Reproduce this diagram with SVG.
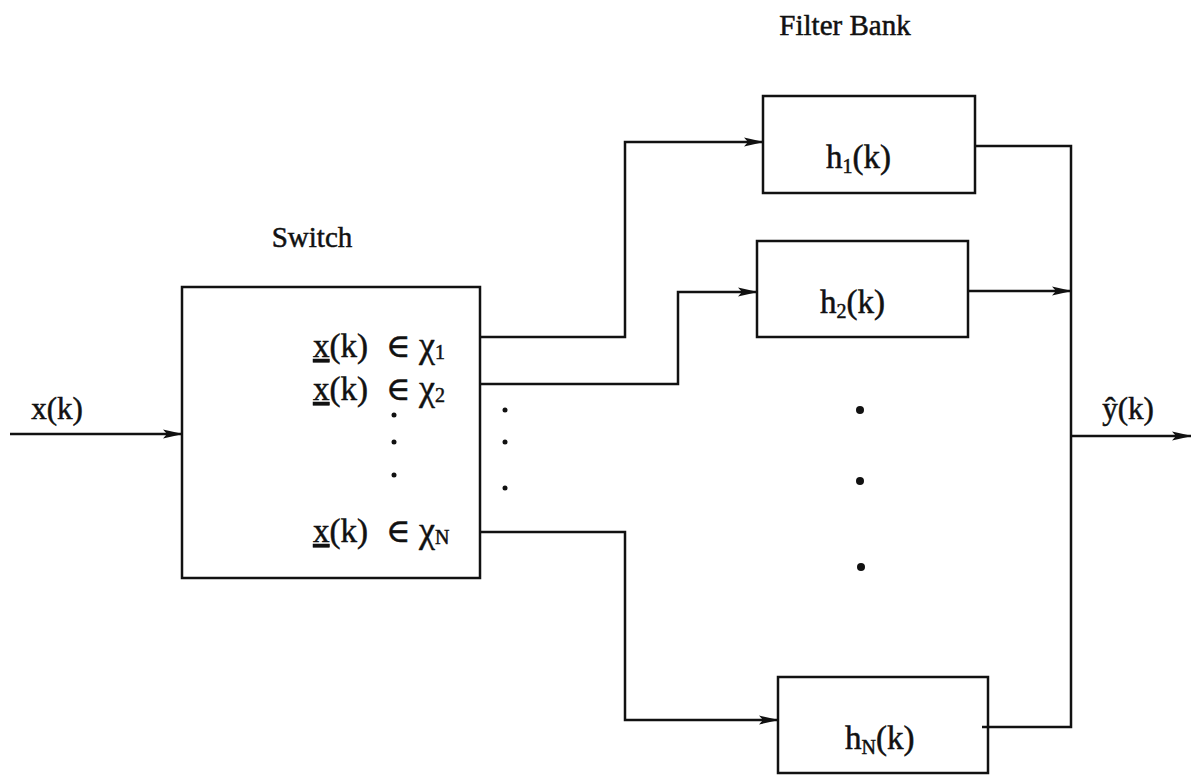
<svg xmlns="http://www.w3.org/2000/svg" width="1191" height="776" viewBox="0 0 1191 776">
<style>
text{font-family:"Liberation Serif","DejaVu Serif",serif;font-size:29px;fill:#111;stroke:#111;stroke-width:0.5}
.m{font-size:31px}
.h{font-size:33px}
.s{font-size:33px}
.box{fill:none;stroke:#111;stroke-width:2.5}
.wire{fill:none;stroke:#111;stroke-width:2.5}
.sub{font-size:20px}
.chi{font-size:36px}
</style>
<defs>
<marker id="ah" markerWidth="20" markerHeight="12" refX="19" refY="6" orient="auto" markerUnits="userSpaceOnUse">
<path d="M0,1.5 L20,6 L0,10.5 L4,6 Z" fill="#111"/>
</marker>
</defs>
<rect width="1191" height="776" fill="#fff"/>
<g id="labels">
<text x="312" y="247" text-anchor="middle">Switch</text>
<text x="845" y="35" text-anchor="middle">Filter Bank</text>
<text class="m" x="57" y="419" text-anchor="middle">x(k)</text>
<text class="m" x="1128" y="419" text-anchor="middle">ŷ(k)</text>
</g>
<g id="switch">
<rect class="box" x="182" y="287" width="298" height="291"/>
<text class="s" y="357"><tspan x="313" text-decoration="underline">x</tspan><tspan>(k)</tspan><tspan x="386">∈</tspan><tspan class="chi" x="419">χ</tspan><tspan class="sub" dy="2">1</tspan></text>
<text class="s" y="400"><tspan x="313" text-decoration="underline">x</tspan><tspan>(k)</tspan><tspan x="386">∈</tspan><tspan class="chi" x="419">χ</tspan><tspan class="sub" dy="2">2</tspan></text>
<circle cx="394" cy="415" r="2.5" fill="#111"/>
<circle cx="394" cy="442" r="2.5" fill="#111"/>
<circle cx="394" cy="475" r="2.5" fill="#111"/>
<text class="s" y="542"><tspan x="313" text-decoration="underline">x</tspan><tspan>(k)</tspan><tspan x="386">∈</tspan><tspan class="chi" x="419">χ</tspan><tspan class="sub" dy="2">N</tspan></text>
</g>
<g id="h1">
<rect class="box" x="763" y="96" width="212" height="97"/>
<text class="h" x="826" y="168">h<tspan class="sub" dy="5">1</tspan><tspan dy="-5">(k)</tspan></text>
</g>
<g id="h2">
<rect class="box" x="757" y="241" width="211" height="96"/>
<text class="h" x="820" y="313">h<tspan class="sub" dy="5">2</tspan><tspan dy="-5">(k)</tspan></text>
</g>
<g id="hN">
<rect class="box" x="778" y="677" width="210" height="96"/>
<text class="h" x="845" y="749">h<tspan class="sub" dy="5">N</tspan><tspan dy="-5">(k)</tspan></text>
</g>
<g id="dots">
<circle cx="505" cy="410" r="2.5" fill="#111"/>
<circle cx="505" cy="442" r="2.5" fill="#111"/>
<circle cx="505" cy="488" r="2.5" fill="#111"/>
<circle cx="860" cy="410" r="4" fill="#111"/>
<circle cx="860" cy="481" r="4" fill="#111"/>
<circle cx="861" cy="567" r="4" fill="#111"/>
</g>
<g id="connectors">
<path class="wire" d="M10,434 H182" marker-end="url(#ah)"/>
<path class="wire" d="M480,337 H625 V142 H763" marker-end="url(#ah)"/>
<path class="wire" d="M480,384 H678 V292 H757" marker-end="url(#ah)"/>
<path class="wire" d="M480,532 H625 V720 H778" marker-end="url(#ah)"/>
<path class="wire" d="M975,146 H1071 V727 H982"/>
<path class="wire" d="M968,291 H1071" marker-end="url(#ah)"/>
<path class="wire" d="M1071,436 H1191" marker-end="url(#ah)"/>
</g>
</svg>
